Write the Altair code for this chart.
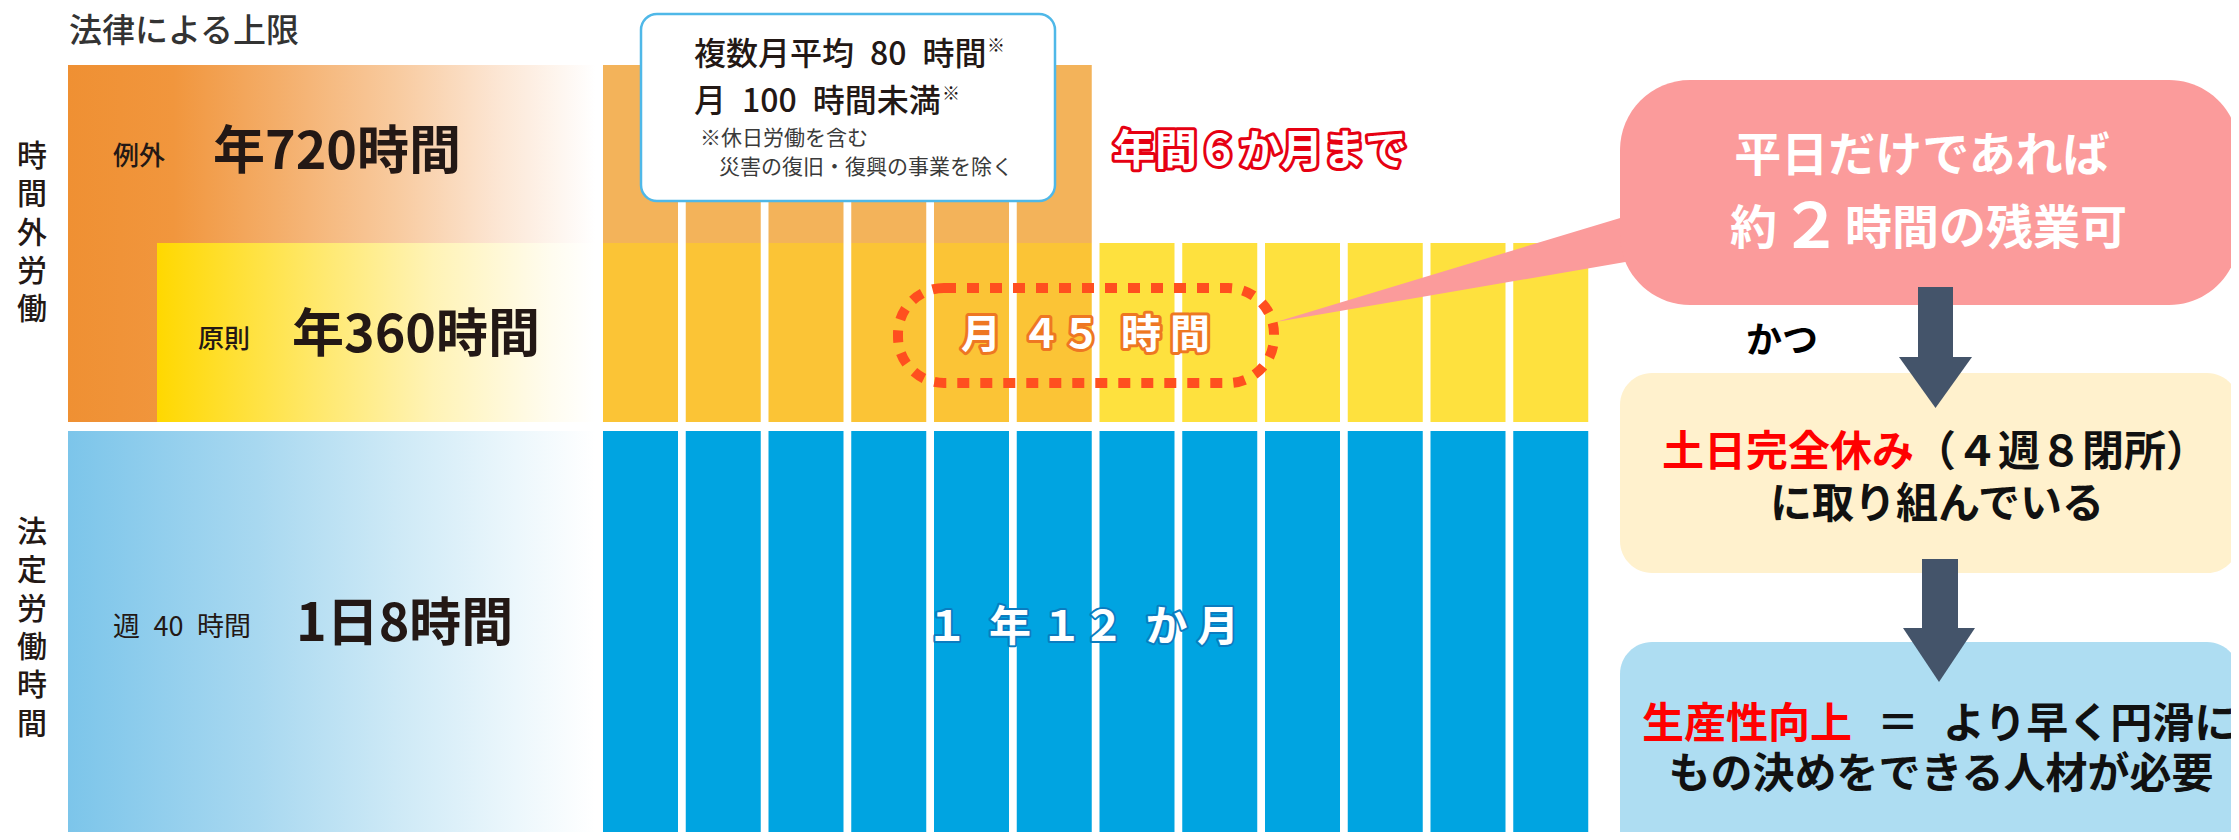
import altair as alt
import pandas as pd

# ---------------- chart values ----------------
title_text = "法律による上限"
overtime_axis_label = "時間外労働"
statutory_axis_label = "法定労働時間"
exception_label = ["例外", "年720時間"]
principle_label = ["原則", "年360時間"]
statutory_label = ["週\u200240\u2002時間", "1日8時間"]
months = list(range(1, 13))
exception_month_count = 6
note_main = ["複数月平均\u200280\u2002時間", "月\u2002100\u2002時間未満"]
note_mark = "※"
note_small = ["※休日労働を含む", "災害の復旧・復興の事業を除く"]
six_month_text = "年間６か月まで"
monthly_45_text = "月\u2002４５\u2002時 間"
year_12_text = "１\u2002年 １２\u2002か 月"
bubble_line1 = "平日だけであれば"
bubble_line2 = ["約", "２", "時間の残業可"]
and_text = "かつ"
step1_lines = ["土日完全休み", "（４週８閉所）", "に取り組んでいる"]
step2_lines = ["生産性向上", "＝", "より早く円滑に", "もの決めをできる人材が必要"]

# ---------------- layout ----------------
FONT = "Noto Sans CJK JP"
W, H, OFF = 2223, 824, 8
XS = alt.Scale(domain=[OFF, OFF + W], nice=False, zero=False)
YS = alt.Scale(domain=[OFF, OFF + H], nice=False, zero=False, reverse=True)


def rect_enc(ch):
    return ch.encode(
        x=alt.X("x0:Q", scale=XS, axis=None), x2="x1:Q",
        y=alt.Y("y0:Q", scale=YS, axis=None), y2="y1:Q",
    )


def grad(stops):
    return alt.Gradient(
        gradient="linear", x1=0, x2=1, y1=0, y2=0,
        stops=[alt.GradientStop(color=c, offset=o) for o, c in stops],
    )


layers = []

# left gradient panels
left_x0, left_x1 = 68, 595
layers.append(rect_enc(alt.Chart(pd.DataFrame([dict(x0=left_x0, x1=left_x1, y0=65, y1=422)])).mark_rect(
    fill=grad([(0, "#EF9033"), (0.2, "#F1963D"), (0.4, "#F4AE6A"), (0.62, "#F8CA9E"), (0.81, "#FCE5D2"), (1, "#FFFFFF")]))))
layers.append(rect_enc(alt.Chart(pd.DataFrame([dict(x0=157, x1=left_x1, y0=243, y1=422)])).mark_rect(
    fill=grad([(0, "#FFD800"), (0.36, "#FFE86A"), (0.63, "#FFF3B6"), (0.9, "#FFFCEF"), (1, "#FFFFFF")]))))
layers.append(rect_enc(alt.Chart(pd.DataFrame([dict(x0=left_x0, x1=left_x1, y0=431, y1=850)])).mark_rect(
    fill=grad([(0, "#7CC5EA"), (0.36, "#A8D8F0"), (0.62, "#CDE9F6"), (0.85, "#ECF7FC"), (1, "#FFFFFF")]))))

# monthly bars
bar_rows = []
for m in months:
    x0 = 603 + (m - 1) * 82.75
    x1 = x0 + 75
    bar_rows.append(dict(x0=x0, x1=x1, y0=431, y1=850, fill="#00A4E1"))
    bar_rows.append(dict(x0=x0, x1=x1, y0=243, y1=422,
                         fill="#FBC436" if m <= exception_month_count else "#FEE13E"))
    if m <= exception_month_count:
        bar_rows.append(dict(x0=x0, x1=x1, y0=65, y1=243, fill="#F3B35A"))
layers.append(rect_enc(alt.Chart(pd.DataFrame(bar_rows)).mark_rect().encode(
    color=alt.Color("fill:N", scale=None))))

# note box
layers.append(rect_enc(alt.Chart(pd.DataFrame([dict(x0=641, x1=1055, y0=14, y1=201)])).mark_rect(
    fill="#FFFFFF", stroke="#4FB8E8", strokeWidth=2.5, cornerRadius=16)))

# dotted box around 月45時間
layers.append(rect_enc(alt.Chart(pd.DataFrame([dict(x0=898, x1=1274, y0=288, y1=383)])).mark_rect(
    fillOpacity=0, stroke="#FF4F1F", strokeWidth=10, strokeDash=[12, 11], cornerRadius=46)))

# bubble tail
tri = pd.DataFrame([
    dict(id="tail", x=1276, y=322, y2=322, fill="#FB9B9B"),
    dict(id="tail", x=1660, y=206, y2=256, fill="#FB9B9B"),
])
layers.append(alt.Chart(tri).mark_area(interpolate="linear").encode(
    x=alt.X("x:Q", scale=XS, axis=None), y=alt.Y("y:Q", scale=YS, axis=None), y2="y2:Q",
    color=alt.Color("fill:N", scale=None), detail="id:N"))

# pink bubble
layers.append(rect_enc(alt.Chart(pd.DataFrame([dict(x0=1620, x1=2239, y0=80, y1=305, fill="#FB9B9B")])).mark_rect(
    cornerRadius=70).encode(color=alt.Color("fill:N", scale=None))))

# step boxes
layers.append(rect_enc(alt.Chart(pd.DataFrame([
    dict(x0=1620, x1=2239, y0=373, y1=573, fill="#FFF1CD"),
    dict(x0=1620, x1=2239, y0=642, y1=870, fill="#AEDDF2"),
])).mark_rect(cornerRadius=32).encode(color=alt.Color("fill:N", scale=None))))

# arrows
ARROW = "#44546A"
layers.append(rect_enc(alt.Chart(pd.DataFrame([
    dict(x0=1918, x1=1953, y0=287, y1=359),
    dict(x0=1922, x1=1958, y0=559, y1=629),
])).mark_rect(color=ARROW)))
heads = pd.DataFrame([
    dict(id="h1", x=1899, y=357, y2=357), dict(id="h1", x=1935.5, y=357, y2=408), dict(id="h1", x=1972, y=357, y2=357),
    dict(id="h2", x=1903, y=628, y2=628), dict(id="h2", x=1939, y=628, y2=682), dict(id="h2", x=1975, y=628, y2=628),
])
layers.append(alt.Chart(heads).mark_area(interpolate="linear", color=ARROW).encode(
    x=alt.X("x:Q", scale=XS, axis=None), y=alt.Y("y:Q", scale=YS, axis=None), y2="y2:Q", detail="id:N"))

# ---------------- text ----------------
DARK = "#231815"
texts = []


def T(t, x, y, fs, c=DARK, align="left", weight="bold"):
    texts.append(dict(t=t, x=x, y=y, fs=fs, c=c, align=align, weight=weight))


T(title_text, 69, 32, 33, "#333333", "left", "500")
for i, ch in enumerate(overtime_axis_label):
    T(ch, 32, 157 + i * 38.3, 30, DARK, "center", "500")
for i, ch in enumerate(statutory_axis_label):
    T(ch, 32, 533 + i * 38.3, 30, DARK, "center", "500")
T(exception_label[0], 113, 157, 26, DARK, "left", "500")
T(exception_label[1], 213, 153, 52)
T(principle_label[0], 198, 340, 26, DARK, "left", "500")
T(principle_label[1], 292, 336, 52)
T(statutory_label[0], 113, 628, 27, DARK, "left", "normal")
T(statutory_label[1], 296, 625, 52)

T(note_main[0], 694, 55, 32, DARK, "left", "500")
T(note_mark, 987, 47, 18, DARK, "left", "normal")
T(note_main[1], 694, 102, 32, DARK, "left", "500")
T(note_mark, 942, 95, 18, DARK, "left", "normal")
T(note_small[0], 700, 139, 21, "#3A3A3A", "left", "normal")
T(note_small[1], 719, 168, 21, "#3A3A3A", "left", "normal")

T(bubble_line1, 1922, 157, 47, "#FFFFFF", "center")
T(bubble_line2[0], 1730, 230, 47, "#FFFFFF")
T(bubble_line2[1], 1811, 229, 62, "#FFFFFF", "center")
T(bubble_line2[2], 1845, 230, 47, "#FFFFFF")
T(and_text, 1782, 342, 36, "#000000", "center")

T(step1_lines[0], 1662, 453, 42, "#FF0000")
T(step1_lines[1], 1914, 453, 42, "#111111")
T(step1_lines[2], 1937, 505, 42, "#111111", "center")
T(step2_lines[0], 1642, 725, 42, "#FF0000")
T(step2_lines[1], 1898, 725, 42, "#111111", "center")
T(step2_lines[2], 1943, 725, 42, "#111111")
T(step2_lines[3], 1941, 775, 42, "#111111", "center")


def fw(w):
    return int(w) if w.isdigit() else w


tdf = pd.DataFrame(texts)
for (align, weight), g in tdf.groupby(["align", "weight"]):
    layers.append(alt.Chart(g).mark_text(align=align, baseline="middle", font=FONT, fontWeight=fw(weight)).encode(
        x=alt.X("x:Q", scale=XS, axis=None), y=alt.Y("y:Q", scale=YS, axis=None),
        text="t:N", size=alt.Size("fs:Q", scale=None), color=alt.Color("c:N", scale=None)))

# outlined texts
outl = [
    dict(t=six_month_text, x=1113, y=152, fs=42, sc="#E60012", sw=6),
    dict(t=monthly_45_text, x=961, y=336, fs=40, sc="#EE7722", sw=6),
    dict(t=year_12_text, x=926, y=628, fs=42, sc="#0A7CC0", sw=4),
]
for r in outl:
    d = pd.DataFrame([dict(t=r["t"], x=r["x"], y=r["y"])])
    base = alt.Chart(d).encode(
        x=alt.X("x:Q", scale=XS, axis=None), y=alt.Y("y:Q", scale=YS, axis=None), text="t:N")
    layers.append(base.mark_text(align="left", baseline="middle", font=FONT, fontWeight="bold",
                                 fontSize=r["fs"], fill=r["sc"], stroke=r["sc"], strokeWidth=r["sw"],
                                 strokeJoin="round"))
    layers.append(base.mark_text(align="left", baseline="middle", font=FONT, fontWeight="bold",
                                 fontSize=r["fs"], fill="#FFFFFF"))

chart = alt.layer(*layers).properties(
    width=W, height=H, autosize=alt.AutoSizeParams(type="none"), padding=0, background="#FFFFFF"
).configure_view(stroke=None)

chart.save("out.html", embed_options={"renderer": "svg", "actions": False})
